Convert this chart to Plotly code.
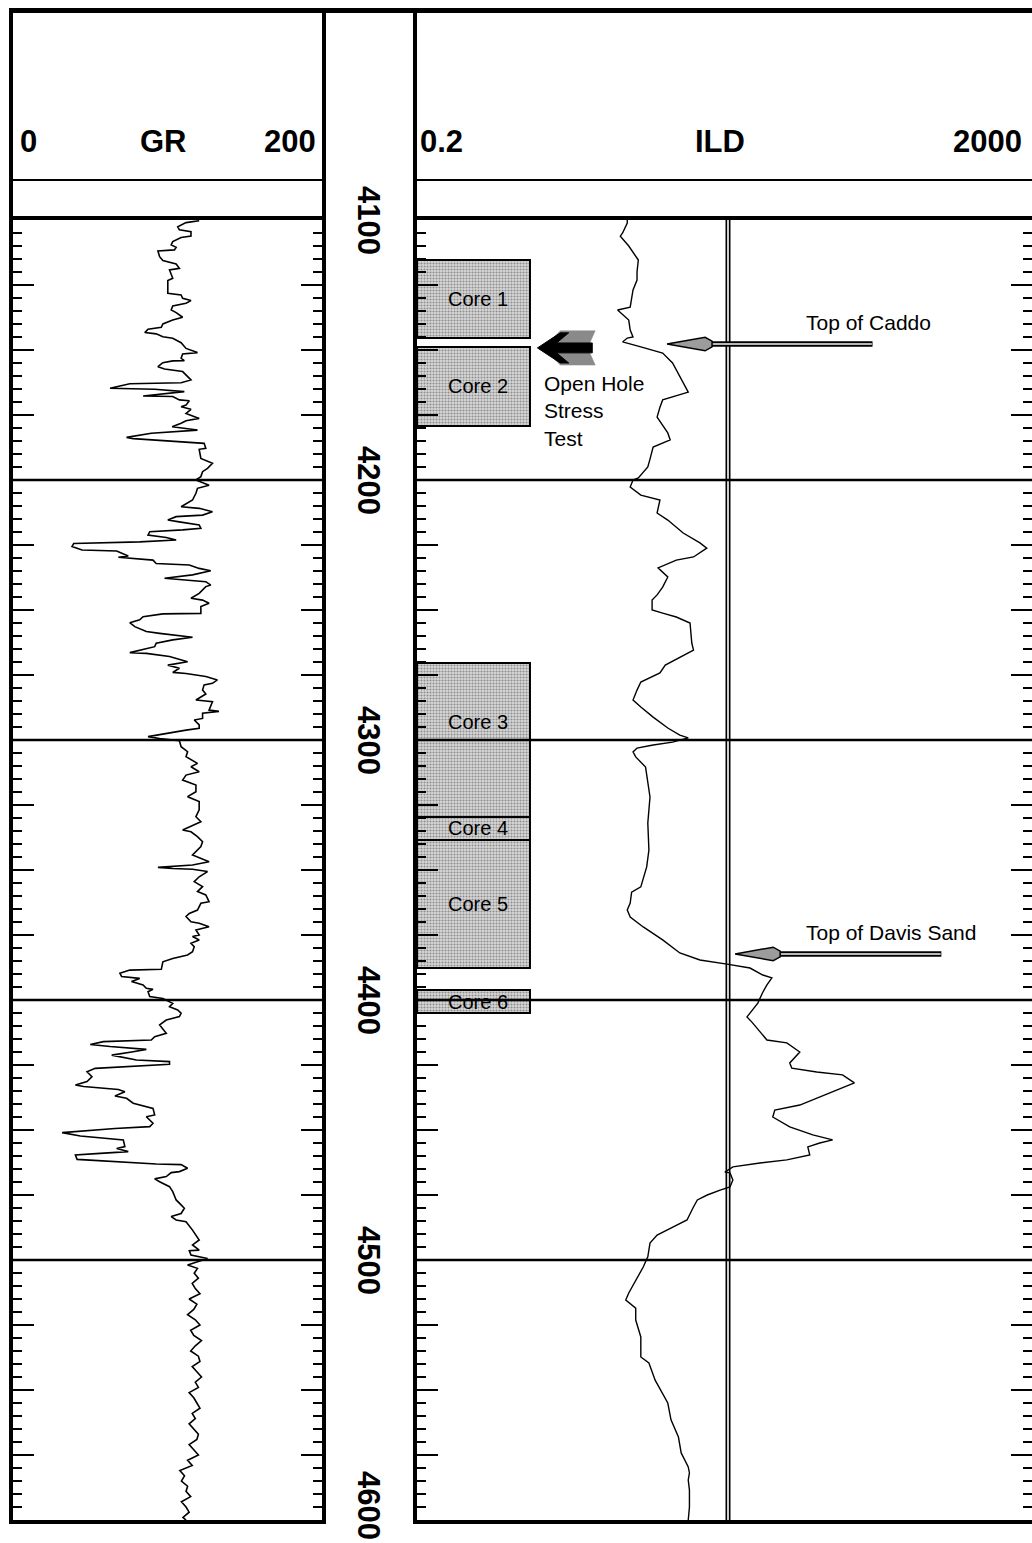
import math
import plotly.graph_objects as go

# ---------------------------------------------------------------- data
# Gamma ray (API units) against measured depth (ft), digitised log
gr_depth_a = [4100.3, 4101.0, 4102.6, 4103.8, 4104.5, 4106.2, 4106.7, 4108.3, 4109.6, 4110.5,
              4111.5, 4111.9, 4114.1, 4115.6, 4116.9, 4118.6, 4119.2, 4121.2, 4122.4, 4123.3,
              4128.2, 4128.8, 4130.1, 4131.0, 4132.0, 4133.1, 4134.6, 4135.6, 4137.4, 4138.5,
              4140.0, 4141.3, 4142.0, 4143.3, 4143.8, 4144.9, 4145.5, 4147.2, 4149.4, 4151.0,
              4151.5, 4153.2, 4154.1, 4154.2, 4154.9, 4156.4, 4157.3, 4158.3, 4161.5, 4162.6,
              4163.0, 4164.7, 4165.1, 4166.0, 4167.7, 4167.9, 4169.2, 4169.5, 4171.2, 4171.8,
              4172.8, 4174.4, 4176.3, 4177.2, 4178.2, 4179.5, 4180.3, 4180.8, 4182.0, 4183.6,
              4184.1, 4184.6, 4185.3, 4185.9, 4187.8, 4188.2, 4191.7, 4193.6, 4195.5, 4196.8,
              4198.7, 4200.0, 4202.0, 4203.2, 4205.1]
gr_api_a = [120.5, 112, 106.6, 107.7, 115.2, 115.2, 108.8, 103.4, 102.4, 105.6,
            104.5, 93.8, 94.9, 97, 105.6, 107.7, 101.3, 102.4, 103.4, 100.2,
            100.2, 108.8, 109.8, 115.2, 112, 103.4, 102.4, 105.6, 109.8, 103.4,
            97, 96, 87.4, 85.3, 92.7, 97, 103.4, 108.8, 112, 119.4,
            109.8, 108.8, 110.9, 103.4, 97, 93.8, 98.1, 109.8, 115.2, 108.8,
            75.6, 62.8, 91.7, 110.9, 84.2, 103.4, 107.7, 114.1, 112, 108.8,
            115.2, 112, 120.5, 112, 108.8, 103, 112, 119.4, 89.5, 73.5,
            77.8, 90.6, 107.7, 123.7, 124.8, 120.5, 121.6, 129.1, 125.9, 122.7,
            121.6, 118.4, 126.9, 119.4, 118.4]

gr_depth_b = [4207.7, 4210.3, 4210.9, 4212.2, 4213.5, 4214.1, 4215.4, 4216.0, 4217.3, 4218.6,
              4219.2, 4219.9, 4221.2, 4222.1, 4223.1, 4223.8, 4224.4, 4225.6, 4226.9, 4227.3,
              4229.2, 4229.7, 4230.8, 4232.1, 4232.7, 4234.0, 4234.9, 4236.5, 4237.8, 4238.2,
              4239.1, 4240.4, 4241.0, 4243.6, 4245.5, 4246.2, 4247.4, 4248.7, 4251.3, 4251.5,
              4252.6, 4253.8, 4254.9, 4256.4, 4258.3, 4259.0, 4260.5, 4261.5, 4262.8, 4264.1,
              4265.4, 4266.4, 4266.7, 4267.9, 4269.9, 4271.2, 4272.4, 4274.0, 4274.4, 4275.6,
              4276.9, 4278.2, 4278.8, 4280.8, 4282.3, 4284.6, 4285.3, 4288.5, 4289.0, 4289.7,
              4291.7, 4292.3, 4294.2, 4295.5, 4296.2, 4297.4, 4298.7, 4299.4, 4300.3, 4302.6,
              4304.5, 4306.4]
gr_api_b = [116.2, 108.8, 120.5, 129.1, 122.7, 105.6, 100.2, 106.6, 120.5, 121.6,
            109.8, 88.5, 87.4, 99.2, 105.6, 82, 39.3, 38.2, 44.7, 67.1,
            74.6, 68.2, 90.6, 92.7, 114.1, 120.5, 128, 116.2, 98.1, 105.6,
            124.8, 128, 124.8, 120.5, 115.2, 122.7, 126.9, 121.6, 121.6, 97,
            84.2, 82, 75.6, 78.8, 86.3, 94.9, 116.2, 103.4, 92.7, 91.7,
            82, 75.6, 86.3, 101.3, 113, 100.2, 107.7, 103.4, 112, 124.8,
            132.3, 129.1, 123.7, 122.7, 124.8, 118.4, 129.1, 126.9, 133.3, 122.7,
            122.7, 117.3, 120.5, 120.5, 112, 99.2, 87.4, 94.9, 107.7, 108.8,
            113, 112]

gr_depth_c = [4309.0, 4310.3, 4312.2, 4313.5, 4315.4, 4317.3, 4319.9, 4321.8, 4323.7, 4326.9,
              4329.5, 4331.4, 4334.6, 4335.3, 4337.2, 4339.1, 4341.0, 4344.2, 4346.8, 4348.1,
              4349.0, 4349.4, 4349.7, 4350.6, 4352.6, 4354.5, 4356.4, 4358.3, 4359.6, 4362.2,
              4362.8, 4365.4, 4366.7, 4367.9, 4369.9, 4370.5, 4371.8, 4373.1, 4375.0, 4375.6,
              4376.9, 4378.2, 4379.5, 4381.4, 4382.7, 4384.0, 4385.3, 4388.2, 4388.5, 4389.7,
              4391.0, 4391.7, 4392.9, 4394.2, 4395.5, 4395.9, 4396.8, 4398.7, 4399.4, 4401.3,
              4402.6, 4403.8]
gr_api_c = [119.4, 115.2, 120.5, 112, 109.8, 118.4, 118.4, 113, 120.5, 120.5,
            118.4, 121.6, 109.8, 115.2, 119.4, 122.7, 121.6, 116.2, 126.9, 116.2,
            93.8, 103.4, 116.2, 125.9, 120.5, 117.3, 122.7, 119.4, 124.8, 126.9,
            121.6, 119.4, 114.1, 112, 115.2, 120.5, 126.9, 118.4, 120.5, 116.2,
            120.5, 115.2, 117.3, 116.2, 113, 103.4, 97, 96, 75.6, 69.2,
            70.3, 82, 76.7, 84.2, 86.3, 90.6, 87.4, 88.5, 97, 103.4,
            101.3, 106.6]

gr_depth_d = [4405.1, 4406.4, 4407.7, 4409.6, 4412.8, 4414.1, 4415.4, 4416.0, 4417.1, 4417.9,
              4419.0, 4419.9, 4421.2, 4423.1, 4423.7, 4424.7, 4426.3, 4427.6, 4429.5, 4431.4,
              4432.7, 4433.3, 4434.4, 4435.3, 4436.9, 4437.8, 4439.7, 4441.7, 4444.2, 4444.9,
              4447.4, 4448.7, 4449.4, 4451.0, 4452.3, 4453.8, 4456.4, 4457.1, 4458.3, 4459.0,
              4459.6, 4461.3, 4463.1, 4463.3, 4464.7, 4466.0, 4466.4, 4467.9, 4468.8, 4469.9,
              4471.8, 4473.7, 4476.9, 4478.8, 4480.1, 4482.1, 4483.3, 4484.6, 4485.3, 4488.5,
              4492.3, 4494.2, 4496.2, 4496.4, 4498.1, 4499.4, 4501.9, 4503.2, 4505.1]
gr_api_d = [108.8, 107.7, 99.2, 94.9, 99.2, 91.7, 89.5, 58.5, 50, 62.8,
            86.3, 77.8, 63.9, 79.9, 101.3, 101.3, 53.2, 47.9, 51.1, 47.9,
            40.4, 45.7, 68.2, 72.4, 66, 73.5, 77.8, 90.6, 91.7, 86.3,
            90.6, 88.5, 66, 31.8, 43.6, 71.4, 72.4, 67.1, 74.6, 56.4,
            40.4, 41.5, 92.7, 108.8, 113, 107.7, 102.4, 99.2, 91.7, 94.9,
            101.3, 103.4, 105.6, 108.8, 110.9, 108.8, 102.4, 105.6, 112, 116.2,
            120.5, 116.2, 120.5, 114.1, 115.2, 125.9, 113, 119.4, 117.3]

gr_depth_e = [4507, 4509, 4511, 4513, 4515, 4517, 4519, 4521, 4523, 4525,
              4527, 4529, 4531, 4533, 4535, 4537, 4539, 4541, 4543, 4545,
              4547, 4549, 4551, 4553, 4555, 4557, 4559, 4561, 4563, 4565,
              4567, 4569, 4571, 4573, 4575, 4577, 4579, 4581, 4583, 4585,
              4587, 4589, 4591, 4593, 4595, 4597, 4599, 4600]
gr_api_e = [120, 116, 118, 121, 114, 119, 117, 113, 118, 121,
            115, 117, 122, 118, 115, 120, 121, 116, 119, 122,
            118, 120, 114, 117, 119, 121, 116, 118, 114, 117,
            120, 119, 114, 117, 120, 113, 116, 108, 111, 109,
            113, 112, 115, 109, 112, 114, 110, 112]

# Deep induction resistivity (ohm-m) against depth (ft)
ild_depth = [4100.0, 4101.2, 4105.0, 4106.2, 4110.0, 4115.4, 4120.0, 4123.1, 4126.9, 4133.5,
             4134.6, 4136.5, 4138.5, 4142.3, 4145.0, 4145.4, 4146.9, 4148.8, 4151.2, 4155.0,
             4160.0, 4164.2, 4166.2, 4169.2, 4172.0, 4175.8, 4181.9, 4184.6, 4187.3, 4192.0,
             4195.0, 4199.2, 4200.0, 4202.7, 4205.8, 4207.7, 4212.7, 4215.4, 4220.4, 4224.2,
             4226.2, 4229.6, 4230.8, 4233.8, 4237.3, 4241.2, 4244.2, 4246.2, 4250.0, 4251.2,
             4252.7, 4255.0, 4262.7, 4265.4, 4268.1, 4271.2, 4274.2, 4277.7, 4280.8, 4284.6,
             4287.3, 4291.2, 4295.4, 4298.1, 4299.2, 4300.8, 4301.9, 4303.1, 4304.6, 4306.5,
             4310.4, 4316.5, 4321.9, 4331.9, 4342.3, 4348.8, 4356.5, 4358.5, 4362.7, 4365.4,
             4368.1, 4371.9, 4376.9, 4381.9, 4384.6, 4386.2, 4387.7, 4390.4, 4391.5, 4394.2,
             4397.3, 4401.2, 4406.5, 4408.5, 4412.3, 4415.4, 4416.5, 4420.0, 4424.2, 4426.2,
             4427.7, 4428.8, 4431.9, 4433.8, 4437.7, 4440.4, 4442.3, 4445.0, 4448.8, 4451.9,
             4453.8, 4455.0, 4456.5, 4459.6, 4461.5, 4462.7, 4464.2, 4466.2, 4466.5, 4469.2,
             4471.9, 4473.1, 4475.0, 4476.9, 4480.0, 4484.6, 4487.3, 4488.5, 4490.4, 4493.5,
             4498.8, 4502.7, 4506.9, 4512.7, 4515.4, 4518.5, 4523.1, 4529.6, 4537.3, 4539.6,
             4546.2, 4550.8, 4555.0, 4561.5, 4568.1, 4574.2, 4579.6, 4581.9, 4584.6, 4588.5,
             4595.0, 4600.0]
ild_ohmm = [4.5, 4.5, 4.2, 4.06, 4.6, 5.3, 5.2, 5.2, 4.9, 4.7,
            3.9, 4.2, 4.6, 4.7, 4.9, 4.5, 4.2, 5.5, 7.6, 8.8,
            9.8, 10.6, 11.1, 7.6, 7.3, 7.0, 8.2, 8.5, 6.6, 6.3,
            6.1, 5.3, 4.9, 4.7, 5.5, 7.3, 7.0, 8.2, 10.3, 13.2,
            14.6, 12.0, 9.3, 7.1, 8.2, 7.6, 7.0, 6.5, 6.5, 7.6,
            9.3, 11.4, 11.7, 12.0, 9.8, 7.9, 7.3, 5.5, 5.2, 4.9,
            5.5, 6.6, 8.2, 9.8, 11.1, 8.8, 6.6, 5.2, 4.9, 5.1,
            5.9, 6.1, 6.3, 6.1, 6.2, 6.0, 5.5, 4.8, 4.7, 4.5,
            4.7, 5.7, 7.6, 9.8, 13.2, 19.7, 27.7, 33.5, 38.3, 35.6,
            33.3, 31.1, 26.5, 28.5, 32.1, 35.6, 47.8, 57.9, 49.9, 51.4,
            74.4, 109, 130, 109, 74.4, 57.9, 40, 38.8, 49.9, 70.2,
            94.2, 77.8, 65.2, 67.1, 47.8, 32.1, 21.5, 19.1, 20.6, 21.5,
            20.6, 17.8, 14.7, 12.7, 11.9, 10.9, 8.9, 8.1, 7.0, 6.3,
            6.1, 5.7, 5.2, 4.6, 4.4, 5.1, 5.1, 5.5, 5.5, 6.2,
            6.8, 7.5, 8.2, 8.6, 9.6, 10.0, 11.1, 11.3, 11.1, 11.3,
            11.3, 11.1]

# Cored intervals (ft)
core_names = ["Core 1", "Core 2", "Core 3", "Core 4", "Core 5", "Core 6"]
core_top = [4115.4, 4148.8, 4270.4, 4329.6, 4338.5, 4396.2]
core_base = [4145.4, 4179.2, 4329.6, 4338.5, 4387.7, 4405.0]
core_label_depth = [4130.4, 4164.0, 4293.0, 4334.0, 4363.0, 4400.6]

# Depth annotation and formation tops
depth_labels = [4100, 4200, 4300, 4400, 4500, 4600]
grid_depths = [4200, 4300, 4400, 4500]
tops_names = ["Top of Caddo", "Top of Davis Sand"]
tops_depth = [4147.7, 4382.3]
tops_tip_ild = [8.1, 22.2]
tops_tail_ild = [170, 471]
tops_label_ild = 62
dst_depth = 4149.2          # open hole stress test
dst_label_depth = 4173.5

gr_range = [0, 200]
ild_min = 0.2

# ---------------------------------------------------------------- layout helpers
W, H = 1032, 1543
def fx(p):
    return p / W
def fy(p):
    return 1 - p / H

TRACK_TOP, TRACK_BOT = 220, 1520
GR_L, GR_R, ILD_L = 13, 322, 417
PX_PER_DECADE = 155.5
FONT = "Liberation Sans, Arial, Helvetica, sans-serif"

gr_depth = gr_depth_a + gr_depth_b + gr_depth_c + gr_depth_d + gr_depth_e
gr_api = gr_api_a + gr_api_b + gr_api_c + gr_api_d + gr_api_e

fig = go.Figure()

# GR curve
fig.add_trace(go.Scatter(x=gr_api, y=gr_depth, xaxis="x", yaxis="y", mode="lines",
                         line=dict(color="black", width=1.6), hoverinfo="skip"))

# 20 ohm-m double grid line in the resistivity track
fig.add_trace(go.Scatter(x=[20, 20], y=[4100, 4600], xaxis="x2", yaxis="y2", mode="lines",
                         line=dict(color="black", width=5), hoverinfo="skip"))
fig.add_trace(go.Scatter(x=[20, 20], y=[4100, 4600], xaxis="x2", yaxis="y2", mode="lines",
                         line=dict(color="#cfcfcf", width=2), hoverinfo="skip"))

# ILD curve
fig.add_trace(go.Scatter(x=ild_ohmm, y=ild_depth, xaxis="x2", yaxis="y2", mode="lines",
                         line=dict(color="black", width=1.4), hoverinfo="skip"))

# Formation-top arrows
HEAD_WIDE, HEAD_BACK = 1.76, 1.95
for d, tip, tail in zip(tops_depth, tops_tip_ild, tops_tail_ild):
    fig.add_trace(go.Scatter(x=[tip * HEAD_BACK, tail], y=[d, d], xaxis="x2", yaxis="y2",
                             mode="lines", line=dict(color="black", width=5.5), hoverinfo="skip"))
    fig.add_trace(go.Scatter(x=[tip * HEAD_BACK, tail * 0.99], y=[d, d], xaxis="x2", yaxis="y2",
                             mode="lines", line=dict(color="#b8b8b8", width=1.8), hoverinfo="skip"))
    fig.add_trace(go.Scatter(
        x=[tip, tip * HEAD_WIDE, tip * HEAD_BACK, tip * HEAD_BACK, tip * HEAD_WIDE, tip],
        y=[d, d - 2.6, d - 1.1, d + 1.1, d + 2.6, d],
        xaxis="x2", yaxis="y2", mode="lines", fill="toself", fillcolor="#9c9c9c",
        line=dict(color="black", width=1.5), hoverinfo="skip"))

# Open hole stress test marker: stippled chevron tail behind a solid arrow
fig.add_trace(go.Scatter(
    x=[1.30, 1.67, 2.80, 2.50, 2.80, 1.67, 1.30],
    y=[dst_depth + v for v in [0, -6.6, -6.6, 0, 6.6, 6.6, 0]],
    xaxis="x2", yaxis="y2", mode="lines", fill="toself", fillcolor="#8a8a8a",
    line=dict(color="#8a8a8a", width=0.5), hoverinfo="skip"))
fig.add_trace(go.Scatter(
    x=[1.19, 1.67, 1.89, 1.58, 2.68, 2.68, 1.58, 1.89, 1.67, 1.19],
    y=[dst_depth + v for v in [0, -5.8, -5.8, -1.9, -1.9, 1.9, 1.9, 5.8, 5.8, 0]],
    xaxis="x2", yaxis="y2", mode="lines", fill="toself", fillcolor="black",
    line=dict(color="black", width=1), hoverinfo="skip"))

# Core intervals as stippled bars on a 0-1 overlay of the resistivity track
core_mid = [(t + b) / 2 for t, b in zip(core_top, core_base)]
core_len = [b - t for t, b in zip(core_top, core_base)]
fig.add_trace(go.Bar(
    x=[0.1837] * len(core_names), y=core_mid, width=core_len, base=0, orientation="h",
    xaxis="x3", yaxis="y2", hoverinfo="skip",
    marker=dict(color="#d0d0d0", line=dict(color="black", width=2),
                pattern=dict(shape=".", fgcolor="#444444", bgcolor="#d8d8d8",
                             size=3, solidity=0.4))))

depth_axis = dict(
    domain=[fy(TRACK_BOT), fy(TRACK_TOP)], range=[4600, 4100],
    linecolor="black", linewidth=4, mirror="ticks",
    ticks="inside", ticklen=21, tickwidth=2, tickcolor="black",
    tick0=4100, dtick=25, showticklabels=False, showgrid=False, zeroline=False,
    minor=dict(ticks="inside", tick0=4100, dtick=5, ticklen=9, tickwidth=2,
               tickcolor="black", showgrid=False),
)
track_x = dict(showline=True, linecolor="black", linewidth=4, mirror=True, ticks="",
               showticklabels=False, showgrid=False, zeroline=False)

log_lo = math.log10(ild_min)
log_hi = log_lo + (W - ILD_L) / PX_PER_DECADE

fig.update_layout(
    width=W, height=H, margin=dict(l=0, r=0, t=0, b=0),
    paper_bgcolor="white", plot_bgcolor="white", showlegend=False,
    xaxis=dict(domain=[fx(GR_L), fx(GR_R)], range=gr_range, anchor="y", **track_x),
    yaxis=dict(anchor="x", showline=True, **depth_axis),
    xaxis2=dict(domain=[fx(ILD_L), 1.0], type="log", range=[log_lo, log_hi], anchor="y2", **track_x),
    # resistivity track runs off the right edge of the sheet: no right-hand border
    yaxis2=dict(anchor="x2", matches="y", showline=False, **depth_axis),
    xaxis3=dict(overlaying="x2", anchor="y2", range=[0, 1], visible=False),
    font=dict(family=FONT, color="black"),
)

# ---------------------------------------------------------------- frame
shapes = []
def seg(x0, y0, x1, y1, w):
    shapes.append(dict(type="line", xref="paper", yref="paper", x0=fx(x0), y0=fy(y0),
                       x1=fx(x1), y1=fy(y1), line=dict(color="black", width=w)))

seg(9, 10.5, W, 10.5, 5)                    # header top
seg(GR_L - 2, 8, GR_L - 2, TRACK_TOP, 4)     # GR header sides
seg(GR_R + 2, 8, GR_R + 2, TRACK_TOP, 4)
seg(ILD_L - 2, 8, ILD_L - 2, TRACK_BOT + 4, 4)  # resistivity track left border
seg(GR_L - 2, 180, GR_R + 2, 180, 2)        # scale divider
seg(ILD_L - 2, 180, W, 180, 2)

for d in grid_depths:
    for xr, yr in (("x domain", "y"), ("x2 domain", "y2")):
        shapes.append(dict(type="line", xref=xr, yref=yr, x0=0, x1=1, y0=d, y1=d,
                           line=dict(color="black", width=2.5)))
fig.update_layout(shapes=shapes)

# ---------------------------------------------------------------- text
ann = []
def head(text, x, anchor):
    ann.append(dict(text=f"<b>{text}</b>", x=fx(x), y=fy(142), xref="paper", yref="paper",
                    xanchor=anchor, yanchor="middle", showarrow=False,
                    font=dict(size=31, family=FONT)))

head("0", 18, "left")
head("GR", 163, "center")
head("200", 318, "right")
head("0.2", 418, "left")
head("ILD", 720, "center")
head("2000", 1024, "right")

for d in depth_labels:
    ann.append(dict(text=f"<b>{d}</b>", x=fx(369), y=d, xref="paper", yref="y",
                    xanchor="center", yanchor="middle", textangle=90, showarrow=False,
                    yshift=15 if d == 4600 else 0, font=dict(size=31, family=FONT)))

for name, d in zip(core_names, core_label_depth):
    ann.append(dict(text=name, x=0.099, y=d, xref="x3", yref="y2", xanchor="center",
                    yanchor="middle", showarrow=False, font=dict(size=20, family=FONT)))

for name, d in zip(tops_names, tops_depth):
    ann.append(dict(text=name, x=math.log10(tops_label_ild), y=d - 8.3, xref="x2", yref="y2",
                    xanchor="left", yanchor="middle", showarrow=False,
                    font=dict(size=21, family=FONT)))

ann.append(dict(text="Open Hole<br>Stress<br>Test", x=math.log10(1.27), y=dst_label_depth,
                xref="x2", yref="y2", xanchor="left", yanchor="middle", align="left",
                showarrow=False, font=dict(size=21, family=FONT)))

fig.update_layout(annotations=ann)

fig.write_html("out.html")
